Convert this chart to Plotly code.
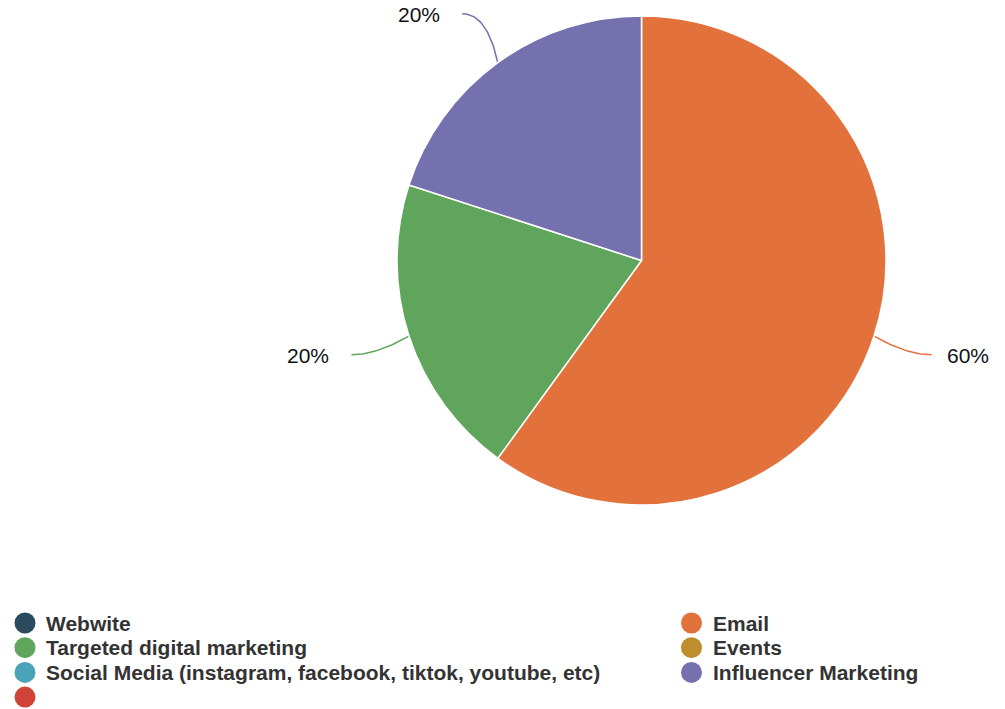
import numpy as np
import plotly.graph_objects as go

# Channel shares (percent of responses)
channels = ["Email", "Targeted digital marketing", "Influencer Marketing",
            "Webwite", "Events",
            "Social Media (instagram, facebook, tiktok, youtube, etc)", ""]
shares = [60, 20, 20, 0, 0, 0, 0]
channel_colors = ["#e2713b", "#5fa55b", "#7571af",
                  "#2c4a5e", "#bf8e2c", "#4aa3b8", "#cf4437"]

# Legend layout: two columns of channel names
legend_left = ["Webwite", "Targeted digital marketing",
               "Social Media (instagram, facebook, tiktok, youtube, etc)", ""]
legend_right = ["Email", "Events", "Influencer Marketing"]

W, H = 1005, 709
cx, cy, r = 641.5, 260.5, 244.5      # pie centre / radius in page pixels
label_r = 305                        # radius where connectors end

color_of = dict(zip(channels, channel_colors))
pie_labels = [c for c, v in zip(channels, shares) if v > 0]
pie_values = [v for v in shares if v > 0]
pie_colors = [color_of[c] for c in pie_labels]

fig = go.Figure()

fig.add_trace(go.Pie(
    labels=pie_labels, values=pie_values, sort=False, direction="clockwise",
    rotation=0, marker=dict(colors=pie_colors, line=dict(color="white", width=1.5)),
    textinfo="none", showlegend=False,
    domain=dict(x=[(cx - r) / W, (cx + r) / W], y=[1 - (cy + r) / H, 1 - (cy - r) / H]),
))

# Connectors and percentage labels, placed from each slice's mid-angle
total = float(sum(pie_values))
fracs = np.array(pie_values) / total
starts = np.concatenate([[0], np.cumsum(fracs)[:-1]])
mids = (starts + fracs / 2) * 2 * np.pi
annotations = []
for lab, frac, ang, col in zip(pie_labels, fracs, mids, pie_colors):
    dx, dy = np.sin(ang), -np.cos(ang)
    p0 = np.array([cx + r * dx, cy + r * dy])
    p2 = np.array([cx + label_r * dx, cy + label_r * dy])
    side = 1 if dx >= 0 else -1
    p1 = np.array([p2[0] - side * 25, p2[1]])
    t = np.linspace(0, 1, 30)[:, None]
    curve = (1 - t) ** 2 * p0 + 2 * (1 - t) * t * p1 + t ** 2 * p2
    fig.add_trace(go.Scatter(x=curve[:, 0], y=curve[:, 1], mode="lines",
                             line=dict(color=col, width=1.5), hoverinfo="skip",
                             showlegend=False))
    annotations.append(dict(
        x=p2[0] + (13 if side > 0 else -20), y=p2[1] + 1, xref="x", yref="y", showarrow=False,
        text=f"{round(frac * 100)}%", xanchor="left" if side > 0 else "right",
        yanchor="middle", font=dict(size=21, color="#111111", family="Liberation Sans, Arial"),
    ))

# Two-column legend with circular swatches
row0, row_step = 623, 24.7
for col_x, names in ((25, legend_left), (691.5, legend_right)):
    ys = [row0 + i * row_step for i in range(len(names))]
    fig.add_trace(go.Scatter(
        x=[col_x] * len(names), y=ys, mode="markers",
        marker=dict(size=21, color=[color_of[n] for n in names], line=dict(width=0)),
        hovertext=names, hoverinfo="text", showlegend=False,
    ))
    for n, yv in zip(names, ys):
        if n:
            annotations.append(dict(
                x=col_x + 19, y=yv, xref="x", yref="y", showarrow=False, text=n,
                xanchor="left", yanchor="middle",
                font=dict(size=21, color="#333333", family="Liberation Sans, Arial", weight="bold"),
            ))

fig.update_layout(
    width=W, height=H, margin=dict(l=0, r=0, t=0, b=0),
    paper_bgcolor="white", plot_bgcolor="white",
    xaxis=dict(range=[0, W], visible=False, fixedrange=True, domain=[0, 1]),
    yaxis=dict(range=[H, 0], visible=False, fixedrange=True, domain=[0, 1]),
    annotations=annotations, showlegend=False,
)

fig.write_html("out.html")
